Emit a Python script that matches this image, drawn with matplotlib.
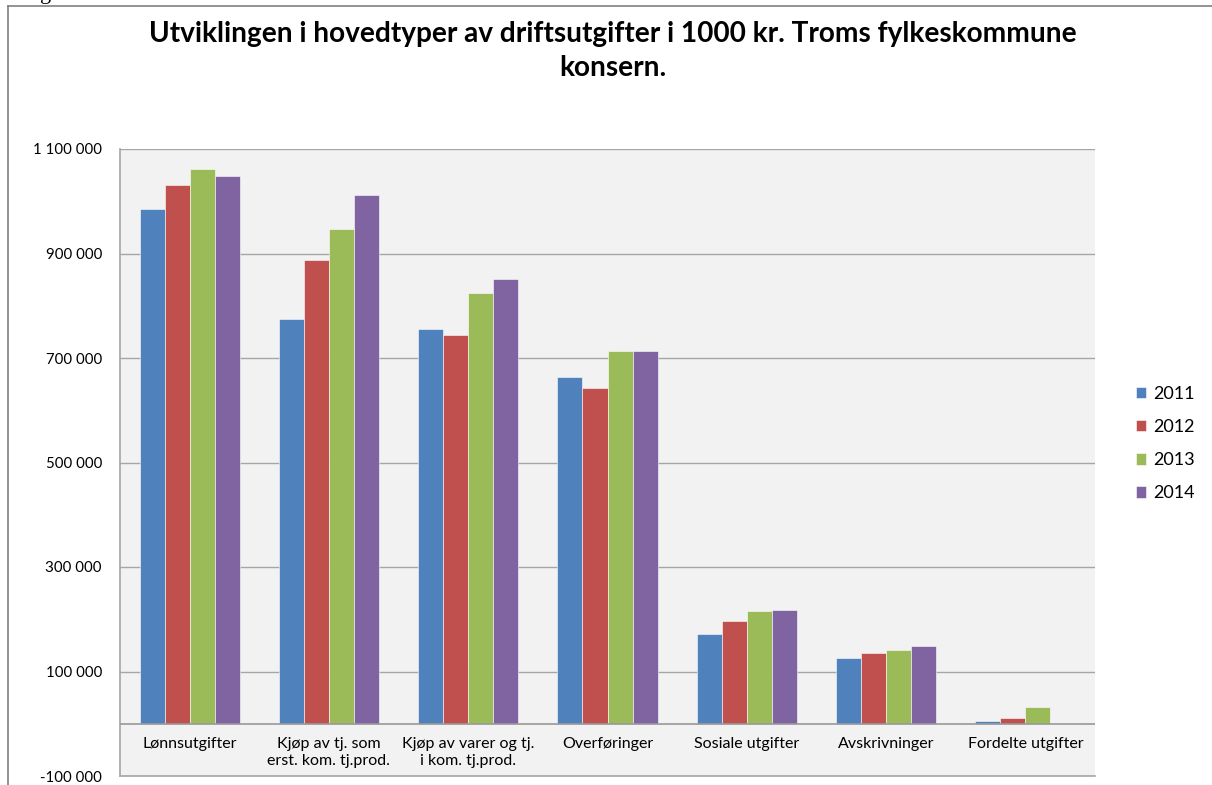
import numpy as np
import matplotlib.pyplot as plt
from matplotlib.ticker import FuncFormatter

# data (1000 kr)
kategorier = ["Lønnsutgifter", "Kjøp av tj. som\nerst. kom. tj.prod.",
              "Kjøp av varer og tj.\ni kom. tj.prod.", "Overføringer",
              "Sosiale utgifter", "Avskrivninger", "Fordelte utgifter"]
aar = ["2011", "2012", "2013", "2014"]
v2011 = [985000, 774000, 755000, 663000, 172000, 125000, 4400]
v2012 = [1031000, 887000, 744000, 642000, 197000, 135000, 11000]
v2013 = [1062000, 947000, 824000, 713000, 215000, 141000, 33000]
v2014 = [1048000, 1012000, 851000, 713000, 218000, 149000, 0]
farger = ["#4F81BD", "#C0504D", "#9BBB59", "#8064A2"]

plt.rcParams['font.family'] = ['Lato', 'DejaVu Sans']

W, H = 1212, 785
fig = plt.figure(figsize=(W / 100, H / 100), dpi=100)

# outer frame of the chart object
fig.add_artist(plt.Line2D([8 / W, 8 / W], [0, 1 - 6 / H], color="#808080", lw=1.2))
fig.add_artist(plt.Line2D([8 / W, 1], [1 - 6 / H, 1 - 6 / H], color="#808080", lw=1.2))
fig.text(40 / W, 1 + 6 / H, "g", fontsize=16, family="Liberation Serif", va="center")

fig.text(613 / W, 1 - 51 / H, "Utviklingen i hovedtyper av driftsutgifter i 1000 kr. Troms fylkeskommune\nkonsern.",
         ha="center", va="center", fontsize=20.2, fontweight="bold", linespacing=1.42)

ax = fig.add_axes([120 / W, (H - 776) / H, 975 / W, 627 / H])
ax.set_facecolor("#F2F2F2")

x = np.arange(len(kategorier))
bredde = 0.18
for i, (serie, farge) in enumerate(zip([v2011, v2012, v2013, v2014], farger)):
    ax.bar(x + (i - 1.5) * bredde, serie, width=bredde, color=farge,
           edgecolor="white", linewidth=0.4, label=aar[i], zorder=3)

ax.set_xlim(-0.5, len(kategorier) - 0.5)
ax.set_ylim(-100000, 1100000)
ax.set_yticks(np.arange(-100000, 1100001, 200000))
ax.yaxis.set_major_formatter(FuncFormatter(lambda v, p: f"{int(v):,}".replace(",", " ")))
ax.tick_params(axis="y", length=0, labelsize=10.8, pad=13, colors="#000000")
ax.set_xticks([])
ax.grid(axis="y", color="#A6A6A6", lw=1, zorder=1)
ax.axhline(0, color="#999999", lw=1.2, zorder=4)

for s in ["top", "right"]:
    ax.spines[s].set_visible(False)
for s in ["left", "bottom"]:
    ax.spines[s].set_color("#A6A6A6")
    ax.spines[s].set_linewidth(1.2)

for xi, lab in zip(x, kategorier):
    ax.text(xi, -26000, lab, ha="center", va="top", fontsize=11.5, linespacing=1.2)

ax.legend(loc="center left", bbox_to_anchor=(1.025, 0.53), frameon=False,
          fontsize=13, handlelength=0.6, handleheight=0.6, labelspacing=0.95,
          handletextpad=0.4)

fig.savefig("out.png", dpi=100, facecolor="white")
